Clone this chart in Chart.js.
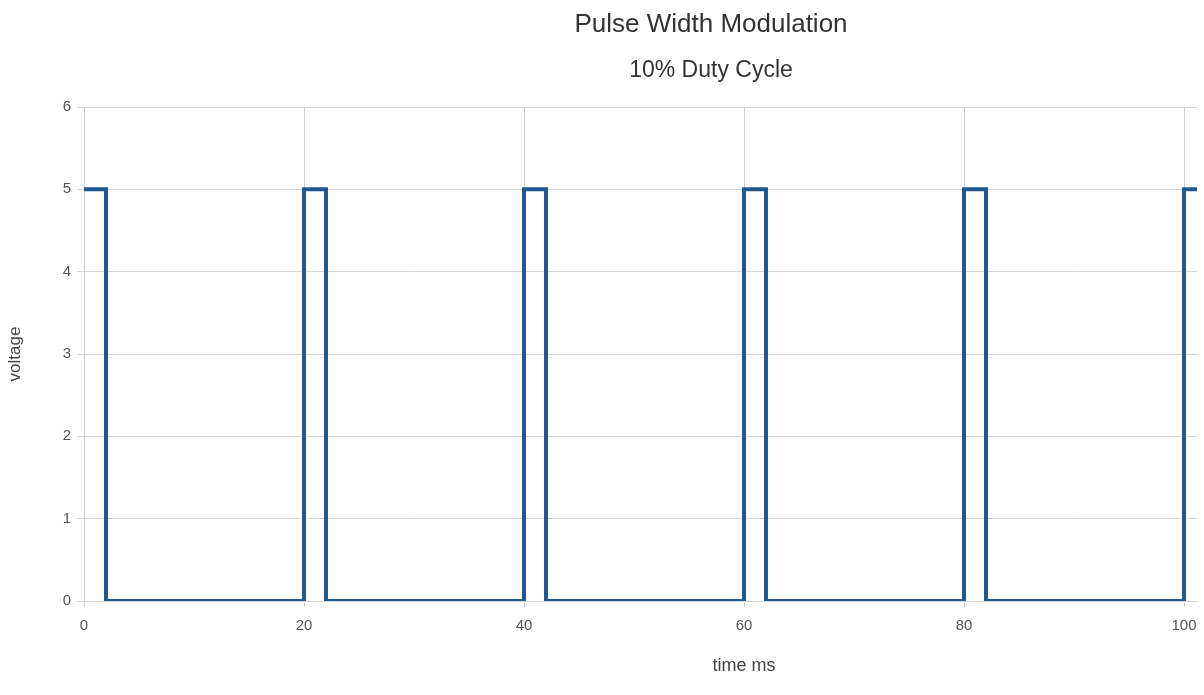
<!DOCTYPE html>
<html><head><meta charset="utf-8">
<script src="https://cdn.jsdelivr.net/npm/chart.js@4.4.0/dist/chart.umd.min.js"></script>
<style>
html,body{margin:0;padding:0;background:#fff;overflow:hidden}
#wrap{width:1197px;height:695px;overflow:hidden;position:relative;background:#fff}
#c{position:absolute;left:0;top:0}
</style></head><body>
<div id="wrap"><canvas id="c" width="1422" height="695" style="width:1422px;height:695px"></canvas></div>
<script>
const titleText = 'Pulse Width Modulation';
const subtitleText = '10% Duty Cycle';
const xAxisTitle = 'time ms';
const yAxisTitle = 'voltage';
const timeMs  = [0, 2, 20, 22, 40, 42, 60, 62, 80, 82, 100, 102];
const voltage = [5, 0, 5,  0,  5,  0,  5,  0,  5,  0,  5,   0];
const xTicks = [0, 20, 40, 60, 80, 100];
const yTicks = [0, 1, 2, 3, 4, 5, 6];

const FONT = "'Liberation Sans', Arial, sans-serif";
const gridColor = '#d4d4d4';

new Chart(document.getElementById('c'), {
  type: 'line',
  data: {
    datasets: [{
      data: timeMs.map((t, i) => ({x: t, y: voltage[i]})),
      borderColor: '#20588f',
      borderWidth: 4,
      borderJoinStyle: 'miter',
      pointRadius: 0,
      stepped: 'before',
      fill: false,
      tension: 0
    }]
  },
  options: {
    responsive: false,
    animation: false,
    devicePixelRatio: 1,
    layout: {padding: {left: 18, right: 18, top: 0, bottom: 0}},
    plugins: {
      legend: {display: false},
      tooltip: {enabled: false},
      title: {
        display: true, text: titleText, color: '#333',
        font: {family: FONT, size: 26, weight: 'normal', lineHeight: 1.2},
        padding: {top: 9, bottom: 8}
      },
      subtitle: {
        display: true, text: subtitleText, color: '#333',
        font: {family: FONT, size: 23, weight: 'normal', lineHeight: 1.2},
        padding: {top: 8.5, bottom: 22.7}
      }
    },
    scales: {
      x: {
        type: 'linear', min: 0, max: 120,
        afterBuildTicks: s => { s.ticks = xTicks.map(v => ({value: v})); },
        afterFit: s => { s.height = 94; },
        ticks: {color: '#555', font: {family: FONT, size: 15}, padding: 10, maxRotation: 0},
        grid: {color: gridColor, lineWidth: 1, tickLength: 6, tickColor: gridColor},
        border: {color: gridColor},
        title: {display: true, text: xAxisTitle, color: '#444',
          font: {family: FONT, size: 18}, padding: {top: 0, bottom: 18}}
      },
      y: {
        type: 'linear', min: 0, max: 6,
        afterBuildTicks: s => { s.ticks = yTicks.map(v => ({value: v})); },
        afterFit: s => { s.width = 66; },
        ticks: {color: '#555', font: {family: FONT, size: 15}, padding: 6},
        grid: {color: gridColor, lineWidth: 1, tickLength: 7, tickColor: gridColor},
        border: {color: gridColor},
        title: {display: true, text: yAxisTitle, color: '#444',
          font: {family: FONT, size: 17}, padding: {top: -13, bottom: 0}}
      }
    }
  }
});
</script>
</body></html>
